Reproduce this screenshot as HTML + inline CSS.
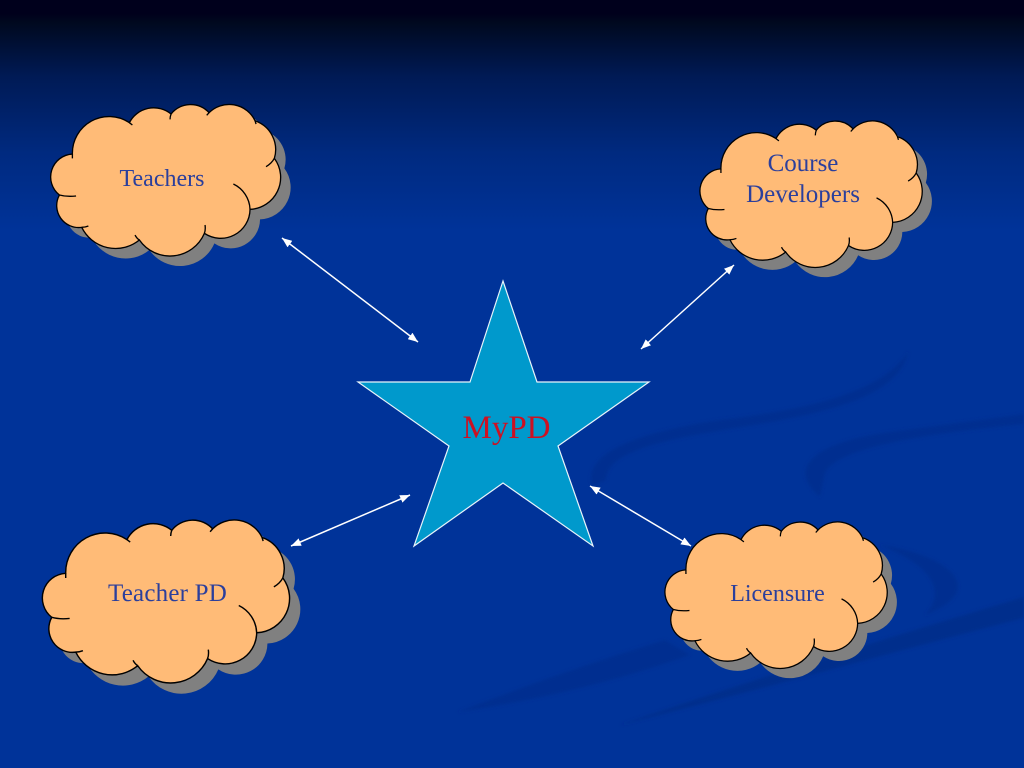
<!DOCTYPE html>
<html><head><meta charset="utf-8"><style>
html,body{margin:0;padding:0;background:#003399}
svg{display:block;position:absolute;left:0;top:0}
text{font-family:"Liberation Serif",serif;font-size:24px;fill:#2b3f9c;text-anchor:middle}
</style></head><body>
<svg width="1024" height="768" viewBox="0 0 1024 768" xmlns="http://www.w3.org/2000/svg">
<defs>
<linearGradient id="bg" x1="0" y1="0" x2="0" y2="1">
<stop offset="0" stop-color="#00001c"/><stop offset="0.018" stop-color="#00001c"/><stop offset="0.03" stop-color="#00091f"/><stop offset="0.1" stop-color="#001a55"/><stop offset="0.2" stop-color="#002a80"/><stop offset="0.3" stop-color="#003399"/><stop offset="1" stop-color="#003399"/>
</linearGradient>
<filter id="bl" x="-5%" y="-5%" width="110%" height="110%"><feGaussianBlur stdDeviation="1.5"/></filter>
<path id="outline" d="M127 192 A110 110 0 0 1 298 98 A82 82 0 0 1 423 72 A75 75 0 0 1 537 68 A86 86 0 0 1 675 92 A92 92 0 0 1 733 205 A96 96 0 0 1 660 358 A88 88 0 0 1 523 430 A112 112 0 0 1 328 450 A113 113 0 0 1 155 412 A66 66 0 0 1 88 315 A69 69 0 0 1 127 192 Z"/>
<path id="tails" d="M298 98 L307 105 M423 72 Q420 80 420 88 M537 68 L530 76 M675 92 L678 102 M733 205 Q725 220 708 230 M610 282 A88 88 0 0 1 660 358 M523 430 Q527 420 525 405 M328 450 Q320 445 315 435 M155 412 Q165 412 175 408 M88 315 Q110 321 138 318 M127 192 L127 205"/>
<g id="cloud">
<use href="#outline" transform="translate(30 30)" fill="#808080"/>
<use href="#outline" fill="#ffbb77" stroke="#000" stroke-width="4"/>
<use href="#tails" fill="none" stroke="#000" stroke-width="4"/>
</g>
<marker id="ah" viewBox="0 0 10 8" refX="10" refY="4" markerWidth="10" markerHeight="8" markerUnits="userSpaceOnUse" orient="auto-start-reverse"><path d="M0 0 L10 4 L0 8 Z" fill="#fff"/></marker>
</defs>
<rect width="1024" height="768" fill="url(#bg)"/>
<g fill="#002f90" filter="url(#bl)">
<path d="M592 486 C582 452 640 432 720 420 C800 410 880 395 908 352 C900 395 830 412 760 424 C690 436 606 446 606 480 Z"/>
<path d="M820 497 C785 468 815 442 890 432 L1024 414 L1024 424 C950 432 825 445 824 478 Z"/>
<path d="M880 545 C950 555 990 590 925 615 C948 590 930 565 880 545 Z"/>
<path d="M1024 597 L1024 618 C900 650 760 690 620 725 C720 690 880 640 1024 597 Z" fill="#002d8c"/>
<path d="M458 712 C540 680 600 660 665 640 L690 655 C620 680 540 700 458 712 Z"/>
</g>
<use href="#cloud" transform="translate(30.06 90.03) scale(0.3333)"/>
<use href="#cloud" transform="translate(680 107) scale(0.3222)"/>
<use href="#cloud" transform="translate(20.2 504.5) scale(0.3583)"/>
<use href="#cloud" transform="translate(645 508) scale(0.3222)"/>
<polygon points="503,281 537,382 649,382 558,446 593,546 503,483 414,546 449,446 358,382 470,382" fill="#0099cc" stroke="#e8f4fa" stroke-width="1.2"/>
<g stroke="#fff" stroke-width="1.5" fill="none">
<line x1="282" y1="238" x2="418" y2="342" marker-start="url(#ah)" marker-end="url(#ah)"/>
<line x1="734" y1="265" x2="641" y2="349" marker-start="url(#ah)" marker-end="url(#ah)"/>
<line x1="291" y1="546" x2="410" y2="495" marker-start="url(#ah)" marker-end="url(#ah)"/>
<line x1="590" y1="486" x2="691" y2="546" marker-start="url(#ah)" marker-end="url(#ah)"/>
</g>
<text x="162" y="186">Teachers</text>
<text x="803" y="171" style="font-size:25px">Course</text>
<text x="803" y="202" style="font-size:25px">Developers</text>
<text x="167.5" y="601" style="font-size:25px;letter-spacing:.2px">Teacher PD</text>
<text x="777.5" y="601">Licensure</text>
<text x="506.5" y="438" style="font-size:33px;fill:#cc1122">MyPD</text>
</svg>
</body></html>
